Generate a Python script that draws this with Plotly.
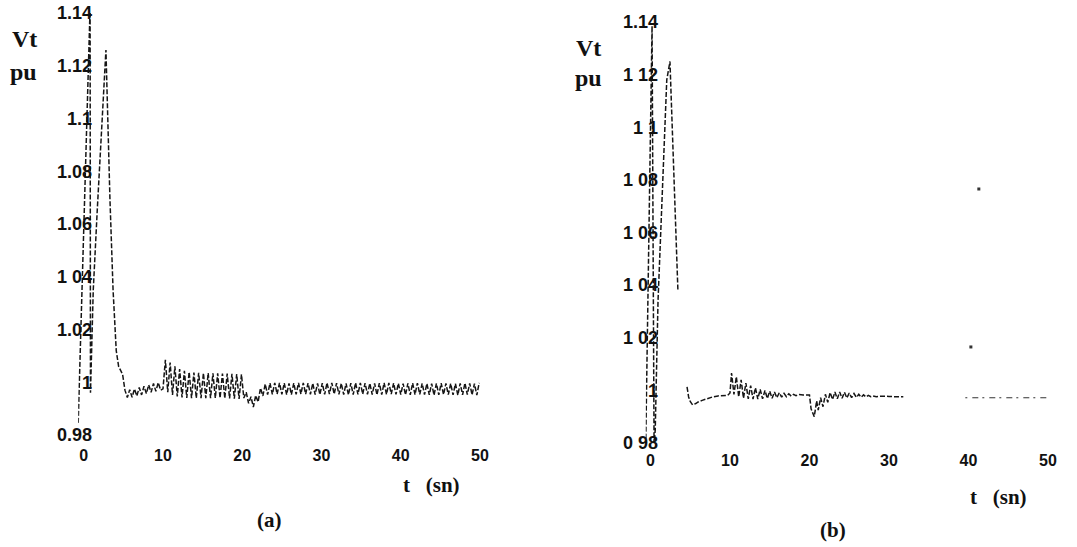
import plotly.graph_objects as go

W, H = 1077, 547

# ---------------- panel (a) data ----------------
a_spike_t = [-0.7, 0.8, 0.85, 1.2, 1.7, 2.8, 3.3, 3.7, 4.1, 4.4, 4.9, 5.2]
a_spike_v = [0.9846, 1.1420, 0.9960, 1.0350, 1.0650, 1.1260, 1.0700, 1.0350, 1.0120, 1.0060, 1.0030, 0.9970]

a_osc1_t = [5.5, 5.8, 6.1, 6.4, 6.7, 7.0, 7.3, 7.6, 7.9, 8.2, 8.5, 8.8, 9.1, 9.4, 9.7, 10.0]
a_osc1_v = [0.9942, 0.9972, 0.9943, 0.9975, 0.9948, 0.9980, 0.9952, 0.9985, 0.9957, 0.9990,
            0.9962, 0.9995, 0.9966, 0.9999, 0.9970, 0.9975]

a_osc2_t = [10.3, 10.6, 10.9, 11.2, 11.5, 11.8, 12.1, 12.4, 12.7, 13.0, 13.3, 13.6, 13.9, 14.2,
            14.5, 14.8, 15.1, 15.4, 15.7, 16.0, 16.3, 16.6, 16.9, 17.2, 17.5, 17.8, 18.1, 18.4,
            18.7, 19.0, 19.3, 19.6, 19.9]
a_osc2_v = [1.0085, 0.9962, 1.0075, 0.9952, 1.0060, 0.9946, 1.0050, 0.9942, 1.0043, 0.9941,
            1.0039, 0.9940, 1.0037, 0.9940, 1.0036, 0.9940, 1.0035, 0.9940, 1.0035, 0.9940,
            1.0034, 0.9940, 1.0034, 0.9940, 1.0033, 0.9939, 1.0033, 0.9939, 1.0032, 0.9938,
            1.0031, 0.9937, 1.0030]

a_osc3_t = [20.2, 20.5, 20.8, 21.1, 21.4, 21.7, 22.0, 22.3, 22.6, 22.9, 23.2]
a_osc3_v = [0.9940, 0.9962, 0.9920, 0.9945, 0.9906, 0.9950, 0.9925, 0.9978, 0.9948, 0.9993, 0.9953]

a_osc4_t = [23.5, 23.8, 24.1, 24.4, 24.7, 25.0, 25.3, 25.6, 25.9, 26.2, 26.5, 26.8, 27.1, 27.4,
            27.7, 28.0, 28.3, 28.6, 28.9, 29.2, 29.5, 29.8, 30.1, 30.4, 30.7, 31.0, 31.3, 31.6,
            31.9, 32.2, 32.5, 32.8, 33.1, 33.4, 33.7, 34.0, 34.3, 34.6, 34.9, 35.2, 35.5, 35.8,
            36.1, 36.4, 36.7, 37.0, 37.3, 37.6, 37.9, 38.2, 38.5, 38.8, 39.1, 39.4, 39.7, 40.0,
            40.3, 40.6, 40.9, 41.2, 41.5, 41.8, 42.1, 42.4, 42.7, 43.0, 43.3, 43.6, 43.9, 44.2,
            44.5, 44.8, 45.1, 45.4, 45.7, 46.0, 46.3, 46.6, 46.9, 47.2, 47.5, 47.8, 48.1, 48.4,
            48.7, 49.0, 49.3, 49.6, 49.9]
a_osc4_v = [0.9997, 0.9954, 0.9998, 0.9955, 0.9998, 0.9954, 0.9997, 0.9953, 0.9996, 0.9953,
            0.9997, 0.9954, 0.9998, 0.9955, 0.9998, 0.9955, 0.9997, 0.9954, 0.9996, 0.9953,
            0.9996, 0.9953, 0.9997, 0.9954, 0.9998, 0.9955, 0.9998, 0.9955, 0.9997, 0.9954,
            0.9996, 0.9953, 0.9996, 0.9952, 0.9997, 0.9953, 0.9998, 0.9954, 0.9998, 0.9955,
            0.9997, 0.9954, 0.9996, 0.9953, 0.9996, 0.9952, 0.9997, 0.9953, 0.9998, 0.9954,
            0.9998, 0.9955, 0.9997, 0.9954, 0.9996, 0.9953, 0.9995, 0.9952, 0.9996, 0.9952,
            0.9997, 0.9953, 0.9997, 0.9954, 0.9996, 0.9953, 0.9995, 0.9952, 0.9995, 0.9951,
            0.9996, 0.9952, 0.9997, 0.9953, 0.9996, 0.9953, 0.9995, 0.9952, 0.9995, 0.9951,
            0.9996, 0.9952, 0.9997, 0.9953, 0.9996, 0.9952, 0.9995, 0.9951, 0.9998]

# ---------------- panel (b) data ----------------
b_main_t = [-0.6, 0.2, 0.45, 0.6, 0.95, 2.05, 2.45, 2.95, 3.45, None,
            4.6, 4.8, 5.0, 5.3, 5.7, 6.0, 6.5, 7.2, 7.8, 8.5, 9.2, 9.7, 10.0,
            10.2, 10.5, 10.8, 11.1, 11.4, 11.7, 12.0, 12.3, 12.6, 12.9, 13.2, 13.5, 13.8,
            14.1, 14.4, 14.7, 15.0, 15.3, 15.6, 15.9, 16.2, 16.5, 16.8, 17.1, 17.4, 17.7,
            18.0, 18.3, 18.7, 19.2, 19.7, 20.0,
            20.2, 20.6, 20.9, 21.1, 21.4, 21.7, 22.0, 22.3, 22.6, 22.9, 23.2, 23.5, 23.8,
            24.1, 24.4, 24.7, 25.0, 25.3, 25.6, 25.9, 26.2, 26.5, 26.8, 27.1, 27.4, 27.7,
            28.0, 28.4, 28.9, 29.5, 30.0, 30.6, 31.2, 31.8]
b_main_v = [0.9790, 1.1385, 0.9800, 0.9850, 1.0340, 1.1180, 1.1250, 1.0800, 1.0380, None,
            1.0013, 0.9975, 0.9958, 0.9945, 0.9950, 0.9956, 0.9962, 0.9970, 0.9975, 0.9979,
            0.9980, 0.9981, 0.9990,
            1.0066, 0.9985, 1.0052, 0.9975, 1.0040, 0.9970, 1.0028, 0.9968, 1.0018, 0.9967,
            1.0010, 0.9967, 1.0004, 0.9968, 1.0000, 0.9969, 0.9997, 0.9970, 0.9994, 0.9972,
            0.9991, 0.9974, 0.9989, 0.9976, 0.9987, 0.9978, 0.9985, 0.9980, 0.9984, 0.9982,
            0.9983, 0.9982,
            0.9930, 0.9900, 0.9960, 0.9925, 0.9972, 0.9938, 0.9985, 0.9955, 0.9992, 0.9965,
            0.9994, 0.9968, 0.9994, 0.9970, 0.9993, 0.9971, 0.9990, 0.9972, 0.9988, 0.9973,
            0.9985, 0.9974, 0.9983, 0.9975, 0.9981, 0.9976, 0.9979, 0.9976, 0.9978, 0.9976,
            0.9977, 0.9976, 0.9977, 0.9976]
b_tail_t = [39.6, 49.9]
b_tail_v = [0.9972, 0.9972]
b_dot_t = [40.3, 41.3]
b_dot_v = [1.0165, 1.0765]

ytick_vals = [0.98, 1.0, 1.02, 1.04, 1.06, 1.08, 1.1, 1.12, 1.14]
a_ytick_text = ["0.98", "1", "1.02", "1 04", "1.06", "1.08", "1.1", "1.12", "1.14"]
b_ytick_text = ["0 98", "1", "1 02", "1 04", "1 06", "1 08", "1 1", "1 12", "1.14"]
xtick_vals = [0, 10, 20, 30, 40, 50]
xtick_text = ["0", "10", "20", "30", "40", "50"]

a_t = a_spike_t + a_osc1_t + a_osc2_t + a_osc3_t + a_osc4_t
a_v = a_spike_v + a_osc1_v + a_osc2_v + a_osc3_v + a_osc4_v

LINE = dict(color="#151515", width=1.5, dash="5px,2px")

fig = go.Figure()
fig.add_trace(go.Scatter(x=a_t, y=a_v, mode="lines", line=LINE, xaxis="x", yaxis="y",
                         showlegend=False, connectgaps=False, hoverinfo="skip"))
fig.add_trace(go.Scatter(x=b_main_t, y=b_main_v, mode="lines", line=LINE, xaxis="x2", yaxis="y2",
                         showlegend=False, connectgaps=False, hoverinfo="skip"))
fig.add_trace(go.Scatter(x=b_tail_t, y=b_tail_v, mode="lines",
                         line=dict(color="#333", width=1.2, dash="2px,5px,6px,4px"),
                         xaxis="x2", yaxis="y2", showlegend=False, hoverinfo="skip"))
fig.add_trace(go.Scatter(x=b_dot_t, y=b_dot_v, mode="markers",
                         marker=dict(color="#333", size=3, symbol="square"),
                         xaxis="x2", yaxis="y2", showlegend=False, hoverinfo="skip"))

tickfont_y = dict(family="Liberation Sans", size=18, color="#111", weight="bold")
tickfont_x = dict(family="Liberation Sans", size=16, color="#111", weight="bold")

def px_x(p):
    return p / W

def px_y(p):
    return 1 - p / H

common_x = dict(showgrid=False, zeroline=False, showline=False, ticks="", automargin=False,
                tickvals=xtick_vals, ticktext=xtick_text, tickfont=tickfont_x, fixedrange=True)
common_y = dict(showgrid=False, zeroline=False, showline=False, ticks="", automargin=False,
                tickvals=ytick_vals, range=[0.98, 1.14], tickfont=tickfont_y, fixedrange=True)

fig.update_layout(
    width=W, height=H, margin=dict(l=0, r=0, t=0, b=0, autoexpand=False),
    paper_bgcolor="white", plot_bgcolor="white",
    xaxis=dict(domain=[px_x(78.2), px_x(480)], range=[-0.7, 50], anchor="free",
               position=px_y(444), **common_x),
    yaxis=dict(domain=[px_y(435), px_y(13)], ticktext=a_ytick_text, anchor="free",
               position=px_x(92), **common_y),
    xaxis2=dict(domain=[px_x(645.7), px_x(1048)], range=[-0.6, 50], anchor="free",
                position=px_y(449), **common_x),
    yaxis2=dict(domain=[px_y(443), px_y(22)], ticktext=b_ytick_text, anchor="free",
                position=px_x(658), **common_y),
)

serif = dict(family="Liberation Serif", size=24, color="#111", weight="bold")
serif2 = dict(family="Liberation Serif", size=21, color="#111", weight="bold")
labels = [
    ("Vt", 24, 39, serif), ("pu", 23, 72, serif),
    ("Vt", 588, 48, serif), ("pu", 588, 78, serif),
    ("t\u00a0\u00a0\u00a0(sn)", 431, 485, serif2), ("t\u00a0\u00a0\u00a0(sn)", 998, 497, serif2),
    ("(a)", 269, 520, serif2), ("(b)", 833, 530, serif2),
]
for txt, x, y, f in labels:
    fig.add_annotation(text=txt, x=px_x(x), y=px_y(y), xref="paper", yref="paper",
                       showarrow=False, font=f, xanchor="center", yanchor="middle")

fig.write_html(
    "out.html",
    config={"displayModeBar": False, "staticPlot": True},
    post_script="document.body.style.margin='0';document.body.style.overflow='hidden';",
)
